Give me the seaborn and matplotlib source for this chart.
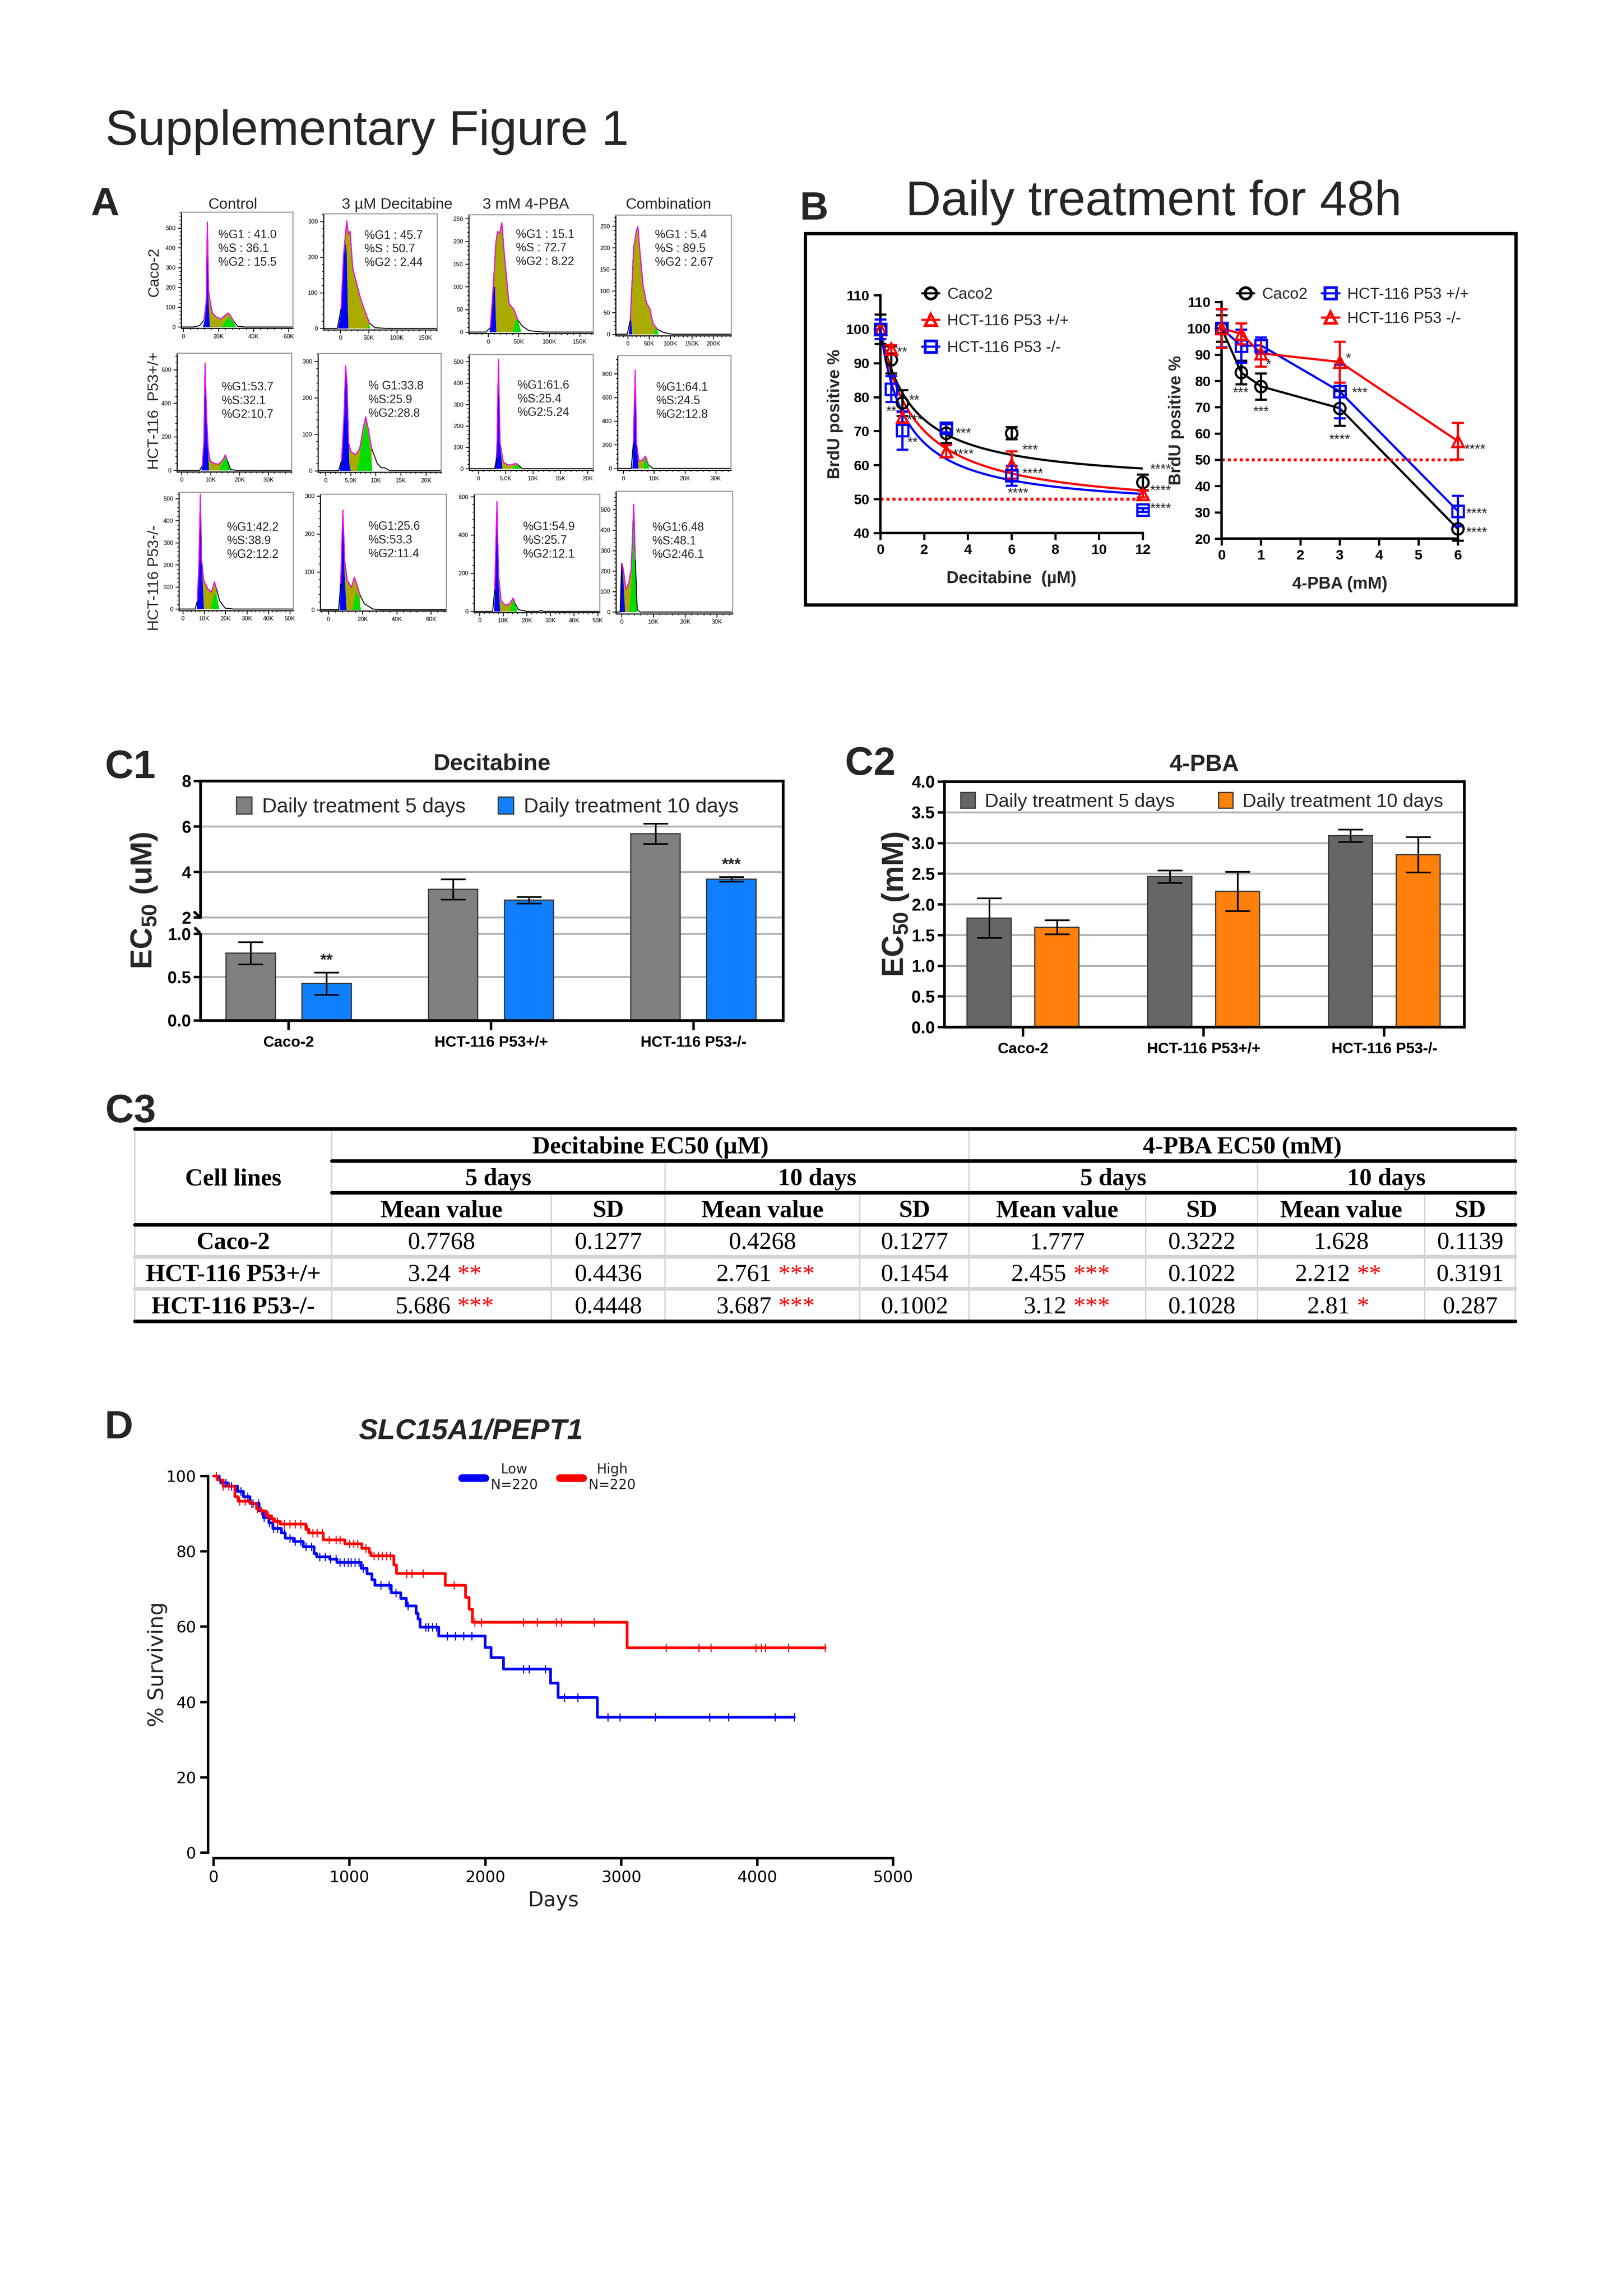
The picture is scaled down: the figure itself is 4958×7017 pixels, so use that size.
import numpy as np
import pandas as pd
import matplotlib
matplotlib.use("Agg")
import matplotlib.pyplot as plt
import seaborn as sns
from matplotlib.lines import Line2D
from matplotlib.patches import Rectangle, Patch
from matplotlib.ticker import AutoMinorLocator
from matplotlib.font_manager import FontProperties

# ---------------------------------------------------------------- data
# A: cell-cycle histograms, points are (DNA content in K, count)
a_caco_ctrl = [(-1, 0), (5.6, 0), (9.3, 7), (11.7, 34), (13, 123), (13.7, 530), (14.4, 182), (15.4, 123),
               (16.6, 71), (19, 49), (21.5, 41), (24, 61), (25.6, 71), (27, 56), (28.8, 27), (31, 4), (35, 0), (62, 0)]
a_caco_ctrl_g1 = [(11, 0), (12.3, 40), (13, 110), (13.7, 505), (14.2, 140), (15, 0)]
a_caco_ctrl_g2 = [(21.5, 0), (23.5, 25), (25.6, 50), (27, 40), (28.8, 20), (30, 0)]

a_caco_dec = [(-29, 0), (-5, 0), (1.5, 56), (6, 211), (11.4, 302), (14.4, 265), (17.4, 273), (22, 170), (27, 138),
              (35, 89), (42, 56), (51.5, 15), (61, 2), (80, 0), (171, 0)]
a_caco_dec_g1 = [(-4, 0), (1.5, 50), (6, 200), (9, 240), (11, 215), (13, 60), (14, 0)]
a_caco_dec_g2 = [(46, 0), (50, 10), (54, 0)]

a_caco_pba = [(-32, 0), (-3.5, 0), (3.5, 10), (8.5, 103), (12.7, 199), (15.5, 222), (19, 218), (22.5, 241), (26.8, 167),
              (30, 122), (34, 64), (37, 58), (42, 51), (49, 26), (56, 13), (67, 3), (92, 0), (172, 0)]
a_caco_pba_g1 = [(2, 0), (6, 40), (9, 100), (11, 100), (12, 40), (13, 0)]
a_caco_pba_g2 = [(40, 0), (44, 20), (47, 30), (50, 20), (54, 0)]

a_caco_comb = [(-28, 0), (-1, 0), (6, 32), (14, 201), (21, 242), (24, 249), (29, 188), (36, 114), (44, 73), (52, 59),
               (59, 26), (69, 12), (84, 4), (104, 0), (242, 0)]
a_caco_comb_g1 = [(2, 0), (5, 25), (7, 40), (8, 30), (10, 0)]
a_caco_comb_g2 = [(60, 0), (64, 12), (66, 15), (69, 10), (72, 0)]

a_wt_ctrl = [(-1.6, 0), (6.2, 0), (7.1, 23), (7.7, 162), (8.1, 640), (8.6, 336), (9.2, 127), (9.9, 57), (11.4, 40),
             (12.9, 37), (14.4, 66), (15.1, 92), (15.9, 57), (16.9, 5), (18.8, 0), (38, 0)]
a_wt_ctrl_g1 = [(6.8, 0), (7.5, 110), (8.1, 620), (8.7, 250), (9.4, 0)]
a_wt_ctrl_g2 = [(13, 0), (14.2, 50), (15.1, 85), (15.9, 50), (16.8, 0)]

a_wt_dec = [(-1.5, 0), (2.6, 0), (3.2, 28), (3.7, 156), (4.0, 288), (4.3, 236), (4.6, 76), (5.1, 52), (6.0, 44),
            (6.8, 60), (7.5, 116), (8.0, 148), (8.5, 116), (9.2, 60), (10.3, 20), (11.1, 8), (11.8, 8), (12.8, 0), (23, 0)]
a_wt_dec_g1 = [(2.8, 0), (3.4, 60), (4.0, 270), (4.3, 200), (4.7, 20), (5.0, 0)]
a_wt_dec_g2 = [(6.3, 0), (7.2, 80), (8.0, 135), (8.6, 90), (9.3, 0)]

a_wt_pba = [(-1.6, 0), (3.0, 0), (3.4, 52), (3.7, 511), (4.0, 120), (4.6, 31), (5.4, 18), (6.1, 18), (6.9, 25),
            (7.3, 18), (8.1, 0), (21, 0)]
a_wt_pba_g1 = [(3.1, 0), (3.5, 200), (3.7, 490), (4.0, 100), (4.4, 0)]
a_wt_pba_g2 = [(6.2, 0), (6.9, 20), (7.4, 14), (7.9, 0)]

a_wt_comb = [(-1.8, 0), (2.6, 0), (3.3, 215), (3.9, 832), (4.3, 215), (5.1, 67), (6.1, 67), (7.2, 104), (8.2, 30),
             (9.6, 0), (35, 0)]
a_wt_comb_g1 = [(2.9, 0), (3.4, 250), (3.9, 800), (4.3, 200), (4.9, 0)]
a_wt_comb_g2 = [(6.3, 0), (6.8, 60), (7.2, 95), (7.8, 50), (8.4, 0)]

a_ko_ctrl = [(-1.8, 0), (5.8, 0), (6.8, 37), (7.6, 222), (8.2, 520), (8.8, 222), (9.8, 130), (11.8, 90), (13.4, 77),
             (14.8, 123), (15.8, 90), (17.2, 37), (19.8, 4), (23.8, 0), (51.6, 0)]
a_ko_ctrl_g1 = [(6.5, 0), (7.5, 200), (8.2, 500), (8.9, 180), (9.8, 0)]
a_ko_ctrl_g2 = [(13, 0), (14, 50), (14.8, 75), (15.8, 60), (17, 0)]

a_ko_dec = [(-4.7, 0), (6, 0), (7.2, 70), (8.5, 263), (9.5, 132), (11, 78), (13.5, 59), (15.2, 86), (16.5, 70),
            (18.5, 39), (21, 16), (26, 2), (31, 0), (69, 0)]
a_ko_dec_g1 = [(6.5, 0), (7.5, 100), (8.5, 255), (9.3, 100), (10.5, 0)]
a_ko_dec_g2 = [(14, 0), (15.5, 35), (16.5, 50), (17.5, 35), (19, 0)]

a_ko_pba = [(-2.4, 0), (5.5, 0), (6.4, 116), (7.3, 576), (8.0, 193), (9.1, 55), (10.9, 32), (12.7, 40), (14.2, 70),
            (15.1, 40), (16.4, 9), (20, 0), (25, 0), (26, 5), (27, 0), (50.9, 0)]
a_ko_pba_g1 = [(6.0, 0), (6.6, 150), (7.3, 560), (7.9, 150), (8.6, 0)]
a_ko_pba_g2 = [(12.8, 0), (13.6, 40), (14.2, 65), (15.0, 35), (16.0, 0)]

a_ko_comb = [(-1.8, 0), (-0.5, 0), (0, 240), (0.5, 211), (1.35, 111), (2.2, 140), (3.0, 211), (3.8, 526), (4.3, 254),
             (4.9, 11), (5.8, 0), (35, 0)]
a_ko_comb_g1 = [(-0.4, 0), (0, 225), (0.4, 180), (1.0, 0)]
a_ko_comb_g2 = [(2.4, 0), (3.2, 200), (3.8, 515), (4.3, 240), (4.8, 0)]

a_row_names = ["Caco-2", "HCT-116  P53+/+", "HCT-116 P53-/-"]
a_col_names = ["Control", "3 µM Decitabine", "3 mM 4-PBA", "Combination"]
g1_pct = [["41.0", "45.7", "15.1", "5.4"], ["53.7", "33.8", "61.6", "64.1"], ["42.2", "25.6", "54.9", "6.48"]]
s_pct = [["36.1", "50.7", "72.7", "89.5"], ["32.1", "25.9", "25.4", "24.5"], ["38.9", "53.3", "25.7", "48.1"]]
g2_pct = [["15.5", "2.44", "8.22", "2.67"], ["10.7", "28.8", "5.24", "12.8"], ["12.2", "11.4", "12.1", "46.1"]]

# B: BrdU positive %, mean and error
dec_dose = [0, 0.5, 1, 3, 6, 12]
dec_caco2 = [100, 91, 78.3, 69.4, 69.4, 54.9]
dec_caco2_err = [4.3, 4, 3.8, 2.9, 1.8, 2.3]
dec_wt = [100, 94.2, 74.1, 64.1, 60.1, 51.5]
dec_wt_err = [1.5, 1.2, 1.5, 1.8, 4, 1]
dec_ko = [100, 82.4, 70.2, 70.9, 56.9, 46.8]
dec_ko_err = [2.9, 3.8, 5.6, 1.2, 2.9, 0.5]
dec_fit_imax = [46, 53.8, 53.3]       # fitted curve
dec_fit_ic50 = [1.46, 1.6, 1.19]

pba_dose = [0, 0.5, 1, 3, 6]
pba_caco2 = [100, 83.2, 77.9, 69.6, 23.7]
pba_caco2_err = [5, 4.5, 5, 6.6, 4.5]
pba_wt = [100, 93.3, 93.5, 76, 30.5]
pba_wt_err = [7.2, 6.3, 3, 10.2, 5.8]
pba_ko = [100, 97.9, 90.5, 87.2, 57.1]
pba_ko_err = [7.4, 4, 5, 7.8, 7]

dec_stars = [(1.0, 94.1, "**"), (1.55, 79.9, "**"), (0.5, 76.6, "**"), (1.57, 74.1, "***"), (1.48, 67.5, "**"),
             (3.8, 70.2, "***"), (3.8, 64.0, "****"), (6.85, 65.3, "***"), (6.97, 58.3, "****"),
             (6.29, 52.6, "****"), (12.81, 59.6, "****"), (12.81, 53.3, "****"), (12.81, 48.0, "****")]
pba_stars = [(0.49, 76.5, "***"), (1.0, 69.3, "***"), (1.19, 87.2, "*"), (3.22, 89.5, "*"), (3.51, 76.5, "***"),
             (3.0, 58.7, "****"), (6.44, 54.9, "****"), (6.48, 30.5, "****"), (6.48, 23.3, "****")]

# C: EC50 values
cell_lines = ["Caco-2", "HCT-116 P53+/+", "HCT-116 P53-/-"]
dec_5d_mean = [0.7768, 3.24, 5.686]
dec_5d_sd = [0.1277, 0.4436, 0.4448]
dec_10d_mean = [0.4268, 2.761, 3.687]
dec_10d_sd = [0.1277, 0.1454, 0.1002]
pba_5d_mean = [1.777, 2.455, 3.12]
pba_5d_sd = [0.3222, 0.1022, 0.1028]
pba_10d_mean = [1.628, 2.212, 2.81]
pba_10d_sd = [0.1139, 0.3191, 0.287]
dec_5d_sig = ["", "**", "***"]
dec_10d_sig = ["", "***", "***"]
pba_5d_sig = ["", "***", "***"]
pba_10d_sig = ["", "**", "*"]
c1_bar_sig = ["**", "", "***"]

# D: Kaplan-Meier steps (days, % surviving) and censor times
low_t = [0, 40, 60, 108, 176, 220, 268, 335, 367, 407, 435, 499, 527, 587, 659, 739, 759, 855, 907, 1086, 1130,
         1166, 1186, 1306, 1378, 1418, 1490, 1505, 1518, 1657, 1997, 2041, 2133, 2480, 2536, 2824, 4273]
low_s = [100, 99, 98.2, 97.3, 95.9, 94.5, 92.7, 90.8, 89, 87.6, 86.1, 84.9, 83.5, 82.6, 81.2, 79.4, 78.5, 77.9,
         77.1, 75.5, 74, 72.5, 71, 69, 67.5, 65.5, 63.5, 62, 59.9, 57.5, 54.5, 51.8, 48.7, 45, 41.2, 36, 36]
high_t = [0, 30, 70, 156, 180, 268, 315, 347, 387, 419, 447, 491, 679, 700, 807, 966, 1090, 1146, 1158, 1326,
          1346, 1705, 1853, 1881, 1905, 3043, 4500]
high_s = [100, 99, 97.3, 94.5, 93.3, 92.7, 91.3, 90.7, 89.5, 88.6, 87.9, 87.2, 85.8, 84.9, 83.1, 82, 80.8, 79.7,
          78.8, 76.4, 74.1, 71, 67.8, 64.6, 61.2, 54.4, 54.4]
low_censor = [45, 90, 130, 200, 250, 290, 330, 370, 410, 440, 470, 520, 560, 600, 640, 680, 720, 780, 820, 860,
              900, 930, 960, 990, 1010, 1040, 1070, 1100, 1230, 1290, 1340, 1430, 1560, 1580, 1610, 1640, 1720,
              1780, 1840, 1900, 2280, 2320, 2440, 2580, 2680, 2900, 2990, 3250, 3650, 3790, 4130, 4273]
high_censor = [20, 70, 110, 190, 230, 280, 320, 350, 400, 430, 470, 520, 560, 600, 640, 690, 730, 760, 800, 850,
               900, 930, 1000, 1030, 1060, 1120, 1180, 1210, 1240, 1270, 1300, 1420, 1460, 1540, 1770, 1920, 1970,
               2280, 2380, 2520, 2560, 2800, 3330, 3570, 3660, 3990, 4030, 4060, 4230, 4500]

# ---------------------------------------------------------------- style
W, H, DPI = 4958, 7017, 600
sns.set_theme(style="ticks")
plt.rcParams["font.family"] = ["Liberation Sans", "DejaVu Sans"]
plt.rcParams["mathtext.fontset"] = "custom"
plt.rcParams["mathtext.rm"] = "Liberation Sans"
plt.rcParams["mathtext.bf"] = "Liberation Sans:bold"
plt.rcParams["axes.edgecolor"] = "black"
plt.rcParams["xtick.color"] = "black"
plt.rcParams["ytick.color"] = "black"

OLIVE, G1_BLUE, G2_GREEN, MAGENTA = "#aaaa00", "#0000ff", "#00dd00", "#ff00ff"
SERIF = ["Liberation Serif", "DejaVu Serif"]

fig = plt.figure(figsize=(W / DPI, H / DPI), dpi=DPI, facecolor="white")


def px_box(l, t, r, b):
    return [l / W, 1 - b / H, (r - l) / W, (b - t) / H]


canvas = fig.add_axes([0, 0, 1, 1])
canvas.set_xlim(0, W)
canvas.set_ylim(H, 0)
canvas.axis("off")

canvas.text(322, 443, "Supplementary Figure 1", fontsize=18, va="baseline", ha="left")
for lab, x, y in [("A", 278, 658), ("B", 2445, 671), ("C1", 321, 2378), ("C2", 2583, 2368),
                  ("C3", 322, 3430), ("D", 320, 4396)]:
    canvas.text(x, y, lab, fontsize=14.5, fontweight="bold", va="baseline", ha="left")

# ---------------------------------------------------------------- A
a_curves = [[a_caco_ctrl, a_caco_dec, a_caco_pba, a_caco_comb],
            [a_wt_ctrl, a_wt_dec, a_wt_pba, a_wt_comb],
            [a_ko_ctrl, a_ko_dec, a_ko_pba, a_ko_comb]]
a_g1 = [[a_caco_ctrl_g1, a_caco_dec_g1, a_caco_pba_g1, a_caco_comb_g1],
        [a_wt_ctrl_g1, a_wt_dec_g1, a_wt_pba_g1, a_wt_comb_g1],
        [a_ko_ctrl_g1, a_ko_dec_g1, a_ko_pba_g1, a_ko_comb_g1]]
a_g2 = [[a_caco_ctrl_g2, a_caco_dec_g2, a_caco_pba_g2, a_caco_comb_g2],
        [a_wt_ctrl_g2, a_wt_dec_g2, a_wt_pba_g2, a_wt_comb_g2],
        [a_ko_ctrl_g2, a_ko_dec_g2, a_ko_pba_g2, a_ko_comb_g2]]
a_boxes = [[(554, 648, 895, 1003), (989, 653, 1336, 1008), (1433, 656, 1813, 1019), (1882, 657, 2235, 1026)],
           [(541, 1079, 891, 1442), (972, 1080, 1348, 1443), (1434, 1083, 1813, 1437), (1888, 1086, 2234, 1437)],
           [(547, 1504, 896, 1866), (979, 1510, 1364, 1867), (1449, 1510, 1833, 1872), (1883, 1501, 2239, 1876)]]
a_xlims = [[(-1.2, 62.4), (-29.5, 171), (-31.7, 172), (-28, 242)],
           [(-1.6, 38), (-1.5, 23), (-1.65, 21), (-1.8, 34.9)],
           [(-1.8, 51.6), (-4.75, 69), (-2.4, 50.9), (-1.8, 35)]]
a_ylims = [[(-6, 581), (-4, 322), (-3, 259), (-3.4, 276)],
           [(-9, 699), (-4, 322), (-7, 534), (-15, 956)],
           [(-7, 529), (-3, 305), (-6, 614), (-9, 590)]]
a_xticks = [[[0, 20, 40, 60], [0, 50, 100, 150], [0, 50, 100, 150], [0, 50, 100, 150, 200]],
            [[0, 10, 20, 30], [0, 5, 10, 15, 20], [0, 5, 10, 15, 20], [0, 10, 20, 30]],
            [[0, 10, 20, 30, 40, 50], [0, 20, 40, 60], [0, 10, 20, 30, 40, 50], [0, 10, 20, 30]]]
a_ysteps = [[100, 100, 50, 50], [200, 100, 100, 200], [100, 100, 200, 100]]
a_text_xy = [[(0.33, 0.85), (0.36, 0.86), (0.38, 0.88), (0.34, 0.88)],
             [(0.39, 0.76), (0.41, 0.77), (0.39, 0.78), (0.34, 0.77)],
             [(0.42, 0.75), (0.38, 0.77), (0.39, 0.77), (0.31, 0.75)]]


def k_label(v):
    if v == 0:
        return "0"
    if v < 10:
        return f"{v:.1f}K"
    return f"{v:g}K"


for r in range(3):
    for c in range(4):
        ax = fig.add_axes(px_box(*a_boxes[r][c]))
        cx, cy = np.array(a_curves[r][c], dtype=float).T
        gx1, gy1 = np.array(a_g1[r][c], dtype=float).T
        gx2, gy2 = np.array(a_g2[r][c], dtype=float).T
        inside = (cx >= gx1.min()) & (cx <= gx2.max())
        ax.fill_between(cx, cy, where=inside, color=OLIVE, lw=0)
        ax.fill_between(gx1, gy1, color=G1_BLUE, lw=0)
        ax.fill_between(gx2, gy2, color=G2_GREEN, lw=0)
        sns.lineplot(x=cx, y=cy, color="black", lw=0.35, sort=False, estimator=None, ax=ax)
        sns.lineplot(x=cx[inside], y=cy[inside], color=MAGENTA, lw=0.35, sort=False, estimator=None, ax=ax)
        ax.set_xlim(*a_xlims[r][c])
        ax.set_ylim(*a_ylims[r][c])
        xt = a_xticks[r][c]
        ax.set_xticks(xt)
        ax.set_xticklabels([k_label(v) for v in xt])
        yt = list(range(0, int(a_ylims[r][c][1]) + 1, a_ysteps[r][c]))
        ax.set_yticks(yt)
        ax.set_yticklabels([str(v) for v in yt])
        ax.xaxis.set_minor_locator(AutoMinorLocator(5))
        ax.yaxis.set_minor_locator(AutoMinorLocator(5))
        ax.tick_params(which="major", direction="out", labelsize=2.2, length=1.3, width=0.3, pad=0.8)
        ax.tick_params(which="minor", direction="out", length=0.6, width=0.25)
        ax.set_xlabel("")
        ax.set_ylabel("")
        for s in ["left", "bottom"]:
            ax.spines[s].set_linewidth(0.4)
        for s in ["top", "right"]:
            ax.spines[s].set_linewidth(0.4)
            ax.spines[s].set_color("#9a9a9a")
        sep = " : " if r == 0 else ":"
        g1_key = "% G1" if (r, c) == (1, 1) else "%G1"
        txt = f"{g1_key}{sep}{g1_pct[r][c]}\n%S{sep}{s_pct[r][c]}\n%G2{sep}{g2_pct[r][c]}"
        tx, ty = a_text_xy[r][c]
        ax.text(tx, ty, txt, transform=ax.transAxes, fontsize=4.3, va="top", ha="left", linespacing=1.25)

for name, x in zip(a_col_names, [712, 1214, 1607, 2044]):
    canvas.text(x, 626, name, fontsize=5.6, ha="center", va="center")
for name, y in zip(a_row_names, [832, 1255, 1766]):
    canvas.text(472, y, name, fontsize=5.6, ha="center", va="center", rotation=90)

# ---------------------------------------------------------------- B
canvas.text(3526, 658, "Daily treatment for 48h", fontsize=18, ha="center", va="baseline")
canvas.add_patch(Rectangle((2462, 714), 2172, 1135, fill=False, lw=1.2, ec="black"))


def style_b(ax, xticks, yticks, xlabel):
    ax.set_xticks(xticks)
    ax.set_yticks(yticks)
    ax.set_xticklabels([str(v) for v in xticks], fontweight="bold")
    ax.set_yticklabels([str(v) for v in yticks], fontweight="bold")
    ax.tick_params(direction="out", labelsize=5.2, length=2.5, width=0.8, pad=1.5)
    for s in ["top", "right"]:
        ax.spines[s].set_visible(False)
    for s in ["left", "bottom"]:
        ax.spines[s].set_linewidth(0.9)
    ax.set_xlabel(xlabel, fontsize=6.2, fontweight="bold", labelpad=5)
    ax.set_ylabel("BrdU positive %", fontsize=6.2, fontweight="bold", labelpad=1)


axl = fig.add_axes(px_box(2691, 902, 3493, 1629))
dec_series = [(dec_caco2, dec_caco2_err, "black", "o"), (dec_wt, dec_wt_err, "red", "^"), (dec_ko, dec_ko_err, "blue", "s")]
for (mean, err, col, mk), imax, ic50 in zip(dec_series, dec_fit_imax, dec_fit_ic50):
    xs = np.linspace(0, 12, 241)
    sns.lineplot(x=xs, y=100 - imax * xs / (ic50 + xs), color=col, lw=0.8, ax=axl)
    axl.errorbar(dec_dose, mean, yerr=err, fmt=mk, ms=4.2, mfc="none", mec=col, mew=0.8, ecolor=col,
                 elinewidth=0.8, capsize=2.2, capthick=0.8, clip_on=False, zorder=3)
axl.plot([0, 12], [50, 50], ls=(0, (1, 1)), color="red", lw=1.1)
axl.set_xlim(0, 12)
axl.set_ylim(40, 110)
style_b(axl, list(range(0, 13, 2)), list(range(40, 111, 10)), "Decitabine  (µM)")
for x, y, s in dec_stars:
    axl.text(x, y - 1.0, s, fontsize=5, ha="center", va="center")
h_dec = [Line2D([], [], color=col, marker=mk, mfc="none", mec=col, ms=4.2, lw=0.8) for _, _, col, mk in dec_series]
axl.legend(h_dec, ["Caco2", "HCT-116 P53 +/+", "HCT-116 P53 -/-"], loc="upper left",
           bbox_to_anchor=(2818 / W, 1 - 878 / H), bbox_transform=fig.transFigure, frameon=False, fontsize=5.8,
           handlelength=1.1, handletextpad=0.5, labelspacing=0.75, borderpad=0, borderaxespad=0)

axr = fig.add_axes(px_box(3734, 923, 4456, 1646))
pba_series = [(pba_caco2, pba_caco2_err, "black", "o"), (pba_wt, pba_wt_err, "blue", "s"), (pba_ko, pba_ko_err, "red", "^")]
for mean, err, col, mk in pba_series:
    sns.lineplot(x=pba_dose, y=mean, color=col, lw=0.8, ax=axr)
    axr.errorbar(pba_dose, mean, yerr=err, fmt=mk, ms=4.2, mfc="none", mec=col, mew=0.8, ecolor=col,
                 elinewidth=0.8, capsize=2.2, capthick=0.8, clip_on=False, zorder=3)
axr.plot([0, 6], [50, 50], ls=(0, (1, 1)), color="red", lw=1.1)
axr.set_xlim(0, 6)
axr.set_ylim(20, 110)
style_b(axr, list(range(0, 7)), list(range(20, 111, 10)), "4-PBA (mM)")
for x, y, s in pba_stars:
    axr.text(x, y - 1.2, s, fontsize=5, ha="center", va="center")
h_pba = [Line2D([], [], color=col, marker=mk, mfc="none", mec=col, ms=4.2, lw=0.8) for _, _, col, mk in pba_series]
blank = Line2D([], [], alpha=0)
axr.legend([h_pba[0], blank, h_pba[1], h_pba[2]], ["Caco2", "", "HCT-116 P53 +/+", "HCT-116 P53 -/-"], ncol=2,
           loc="upper left", bbox_to_anchor=(3780 / W, 1 - 878 / H), bbox_transform=fig.transFigure,
           frameon=False, fontsize=5.8, handlelength=1.1, handletextpad=0.5, labelspacing=0.6,
           columnspacing=0.9, borderpad=0, borderaxespad=0)

# ---------------------------------------------------------------- C1 (broken axis via piecewise scale)
seg_v = [0, 1, 2, 8]
seg_t = [0, 265, 315, 732]


def c1_fwd(v):
    v = np.asarray(v, dtype=float)
    out = np.interp(v, seg_v, seg_t)
    out = np.where(v < 0, v * 265, out)
    return np.where(v > 8, 732 + (v - 8) * 69.5, out)


def c1_inv(t):
    t = np.asarray(t, dtype=float)
    out = np.interp(t, seg_t, seg_v)
    out = np.where(t < 0, t / 265, out)
    return np.where(t > 732, 8 + (t - 732) / 69.5, out)


def bar_panel(ax, m5, s5, m10, s10, colors, unit, yticks, ylabels, title, leg_xy, leg_size, leg_colsp):
    df = pd.DataFrame({"cell": cell_lines * 2, "ec50": m5 + m10,
                       "days": ["Daily treatment 5 days"] * 3 + ["Daily treatment 10 days"] * 3})
    sns.barplot(data=df, x="cell", y="ec50", hue="days", palette=colors, saturation=1, width=0.75, gap=0.35,
                errorbar=None, edgecolor="#3a3a3a", linewidth=0.45, legend=False, ax=ax, zorder=2)
    for cont, sds in zip(ax.containers, [s5, s10]):
        for bar, sd in zip(cont, sds):
            xc = bar.get_x() + bar.get_width() / 2
            ax.errorbar(xc, bar.get_height(), yerr=sd, fmt="none", ecolor="black", elinewidth=0.6,
                        capsize=4.6, capthick=0.6, zorder=3)
    ax.set_xlim(-0.435, 2.443)
    ax.set_yticks(yticks)
    ax.set_yticklabels(ylabels, fontweight="bold")
    ax.set_xticks(range(3))
    ax.set_xticklabels(cell_lines, fontweight="bold")
    ax.tick_params(axis="y", direction="out", labelsize=6.2, length=2.5, width=0.9, pad=1)
    ax.tick_params(axis="x", direction="out", labelsize=5.6, length=3.5, width=0.9, pad=2)
    ax.yaxis.grid(True, color="#b0b0b0", lw=0.7)
    ax.set_axisbelow(True)
    for s in ax.spines.values():
        s.set_linewidth(1.0)
        s.set_color("black")
    ax.set_xlabel("")
    ax.set_ylabel(r"EC$_{\bf 50}$ (" + unit + ")", fontsize=11, fontweight="bold")
    ax.set_title(title, fontsize=8.5, fontweight="bold", pad=4)
    handles = [Patch(fc=colors[0], ec="#3a3a3a", lw=0.45, label="Daily treatment 5 days"),
               Patch(fc=colors[1], ec="#3a3a3a", lw=0.45, label="Daily treatment 10 days")]
    ax.legend(handles=handles, ncol=2, loc="upper left", bbox_to_anchor=(leg_xy[0] / W, 1 - leg_xy[1] / H),
              bbox_transform=fig.transFigure, frameon=False, fontsize=leg_size, handlelength=0.75,
              handleheight=0.9, handletextpad=0.5, columnspacing=leg_colsp, borderpad=0, borderaxespad=0)


ax1 = fig.add_axes(px_box(613, 2387, 2394, 3119))
bar_panel(ax1, dec_5d_mean, dec_5d_sd, dec_10d_mean, dec_10d_sd, ["#808080", "#0f7fff"], "uM",
          [0, 0.5, 1.0, 2, 4, 6, 8], ["0.0", "0.5", "1.0", "2", "4", "6", "8"], "Decitabine", (723, 2436),
          7.5, 1.6)
ax1.set_yscale("function", functions=(c1_fwd, c1_inv))
ax1.set_ylim(0, 8)
ax1.set_yticks([0, 0.5, 1.0, 2, 4, 6, 8])
ax1.set_yticklabels(["0.0", "0.5", "1.0", "2", "4", "6", "8"], fontweight="bold")
ax1.minorticks_off()
ax1.spines["left"].set_visible(False)
ytr = ax1.get_yaxis_transform()
ax1.plot([0, 0], [0, 1.0], color="black", lw=1.0, transform=ytr, clip_on=False, zorder=5)
ax1.plot([0, 0], [2, 8], color="black", lw=1.0, transform=ytr, clip_on=False, zorder=5)
canvas.plot([595, 632], [2788, 2822], color="black", lw=1.0)
canvas.plot([597, 632], [2837, 2872], color="black", lw=1.0)
for bar, sd, sig in zip(ax1.containers[1], dec_10d_sd, c1_bar_sig):
    if sig:
        ax1.annotate(sig, (bar.get_x() + bar.get_width() / 2, bar.get_height() + sd), xytext=(0, 1.5),
                     textcoords="offset points", ha="center", va="bottom", fontsize=6, fontweight="bold")
ax1.yaxis.set_label_coords(-0.072, 0.5)

ax2 = fig.add_axes(px_box(2887, 2389, 4476, 3139))
bar_panel(ax2, pba_5d_mean, pba_5d_sd, pba_10d_mean, pba_10d_sd, ["#666666", "#ff800a"], "mM",
          [0, 0.5, 1, 1.5, 2, 2.5, 3, 3.5, 4], ["0.0", "0.5", "1.0", "1.5", "2.0", "2.5", "3.0", "3.5", "4.0"],
          "4-PBA", (2937, 2422), 7.0, 2.3)
ax2.set_ylim(0, 4)
ax2.yaxis.set_label_coords(-0.066, 0.5)

# ---------------------------------------------------------------- C3 table
col_x = [412, 1014, 1685, 2033, 2628, 2962, 3502, 3844, 4355, 4632]
row_y = [3450, 3548, 3645, 3743, 3841, 3939, 4038]
LIGHT = "#d4d4d4"
for x in [412, 1014, 2962, 4632]:
    canvas.plot([x, x], [row_y[0], row_y[-1]], color=LIGHT, lw=0.5)
for x in [2033, 3844]:
    canvas.plot([x, x], [row_y[1], row_y[-1]], color=LIGHT, lw=0.5)
for x in [1685, 2628, 3502, 4355]:
    canvas.plot([x, x], [row_y[2], row_y[-1]], color=LIGHT, lw=0.5)
for y in [row_y[0], row_y[3], row_y[6]]:
    canvas.plot([col_x[0], col_x[-1]], [y, y], color="black", lw=1.3)
for y in [row_y[1], row_y[2]]:
    canvas.plot([col_x[1], col_x[-1]], [y, y], color="black", lw=1.3)
for y in [row_y[4], row_y[5]]:
    canvas.plot([col_x[0], col_x[-1]], [y, y], color=LIGHT, lw=1.4)


def tcell(x, y, s, bold=False, color="black", ha="center"):
    canvas.text(x, y, s, ha=ha, va="center_baseline", fontsize=9, family=SERIF,
                fontweight="bold" if bold else "normal", color=color)


def mid(a, b):
    return (a + b) / 2


tcell(mid(col_x[0], col_x[1]), mid(row_y[0], row_y[3]), "Cell lines", bold=True)
tcell(mid(col_x[1], col_x[5]), mid(row_y[0], row_y[1]), "Decitabine EC50 (µM)", bold=True)
tcell(mid(col_x[5], col_x[9]), mid(row_y[0], row_y[1]), "4-PBA EC50 (mM)", bold=True)
for i, lab in enumerate(["5 days", "10 days", "5 days", "10 days"]):
    tcell(mid(col_x[1 + 2 * i], col_x[3 + 2 * i]), mid(row_y[1], row_y[2]), lab, bold=True)
for i in range(8):
    tcell(mid(col_x[1 + i], col_x[2 + i]), mid(row_y[2], row_y[3]), "Mean value" if i % 2 == 0 else "SD", bold=True)
table_cols = [(dec_5d_mean, dec_5d_sig), (dec_5d_sd, None), (dec_10d_mean, dec_10d_sig), (dec_10d_sd, None),
              (pba_5d_mean, pba_5d_sig), (pba_5d_sd, None), (pba_10d_mean, pba_10d_sig), (pba_10d_sd, None)]
for r, name in enumerate(cell_lines):
    yc = mid(row_y[3 + r], row_y[4 + r])
    tcell(mid(col_x[0], col_x[1]), yc, name, bold=True)
    for i, (vals, sig) in enumerate(table_cols):
        xc = mid(col_x[1 + i], col_x[2 + i])
        if sig is not None and sig[r]:
            tcell(xc + 28, yc, str(vals[r]), ha="right")
            tcell(xc + 48, yc, sig[r], color="red", ha="left")
        else:
            tcell(xc, yc, str(vals[r]))

# ---------------------------------------------------------------- D
tick_fp = FontProperties(family="DejaVu Sans", size=5.8)
canvas.text(1440, 4375, "SLC15A1/PEPT1", fontsize=10.5, fontweight="bold", fontstyle="italic",
            ha="center", va="center")
axd = fig.add_axes(px_box(653, 4511, 2730, 5662))
sns.lineplot(x=low_t, y=low_s, drawstyle="steps-post", color="#0000ff", lw=1.0, estimator=None, ax=axd)
sns.lineplot(x=high_t, y=high_s, drawstyle="steps-post", color="#ff0000", lw=1.0, estimator=None, ax=axd)


def surv_at(times, t_steps, s_steps):
    idx = np.searchsorted(t_steps, times, side="right") - 1
    return np.asarray(s_steps)[idx]


axd.plot(low_censor, surv_at(low_censor, low_t, low_s), ls="", marker="|", ms=3.2, mew=0.4, color="#0000ff")
axd.plot(high_censor, surv_at(high_censor, high_t, high_s), ls="", marker="|", ms=3.2, mew=0.4, color="#ff0000")
for ln in axd.lines:
    ln.set_clip_on(False)
axd.set_xlim(0, 5000)
axd.set_ylim(0, 100)
axd.set_xticks(range(0, 5001, 1000))
axd.set_yticks(range(0, 101, 20))
sns.despine(ax=axd, offset=2)
axd.spines["left"].set_bounds(0, 100)
axd.spines["bottom"].set_bounds(0, 5000)
for s in ["left", "bottom"]:
    axd.spines[s].set_linewidth(0.9)
axd.tick_params(direction="out", length=2.9, width=0.9, pad=1.5)
for lab in axd.get_xticklabels() + axd.get_yticklabels():
    lab.set_fontproperties(tick_fp)
axd.set_xlabel("Days", fontproperties=FontProperties(family="DejaVu Sans", size=7.5), labelpad=2)
axd.set_ylabel("% Surviving", fontproperties=FontProperties(family="DejaVu Sans", size=7.7))
axd.yaxis.set_label_coords(-0.068, 0.5)
axd.grid(False)
h_km = [Line2D([], [], color="#0000ff", lw=2.8), Line2D([], [], color="#ff0000", lw=2.8)]
leg = axd.legend(h_km, ["Low\nN=220", "High\nN=220"], ncol=2, loc="center left",
                 bbox_to_anchor=(1412 / W, 1 - 4515 / H), bbox_transform=fig.transFigure, frameon=False,
                 prop=FontProperties(family="DejaVu Sans", size=5.0),
                 handlelength=1.7, handletextpad=0.4, columnspacing=1.6, borderpad=0, borderaxespad=0)
for t in leg.get_texts():
    t.set_multialignment("center")

fig.savefig("out.png", dpi=DPI, facecolor="white")
